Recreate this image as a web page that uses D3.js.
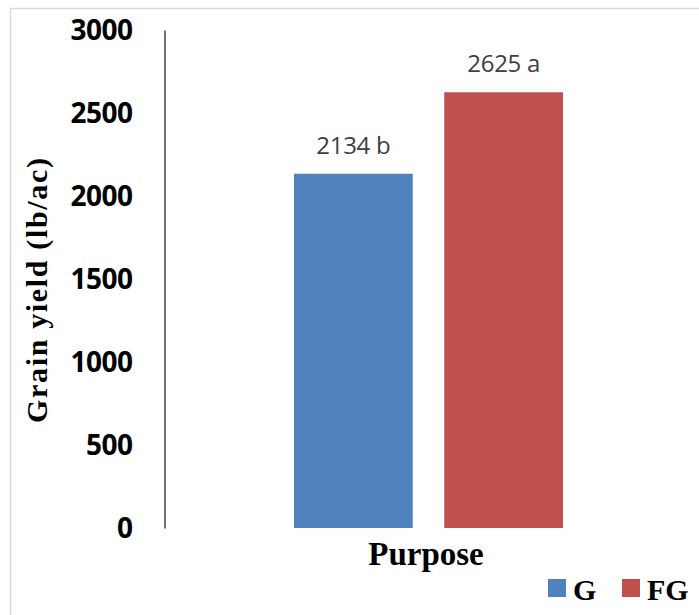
<!DOCTYPE html>
<html>
<head>
<meta charset="utf-8">
<script src="https://cdn.jsdelivr.net/npm/d3@7"></script>
<style>
  html, body { margin: 0; padding: 0; background: #fff; }
  svg { display: block; }
</style>
</head>
<body>
<svg id="chart" width="699" height="615"></svg>
<script>
// Grain yield by purpose
const categories = ["G", "FG"];
const yields = [2134, 2625];
const letters = ["b", "a"];
const colors = ["#4f81bd", "#c0504d"];
const yTicks = [0, 500, 1000, 1500, 2000, 2500, 3000];

const svg = d3.select("#chart");

// chart area frame
svg.append("path")
  .attr("d", "M10.5,615 L10.5,8.5 L699,8.5")
  .attr("fill", "none")
  .attr("stroke", "#d9d9d9")
  .attr("stroke-width", 1.5);

const y = d3.scaleLinear().domain([0, 3000]).range([528, 30]);
const x = d3.scaleBand().domain(categories).range([294, 563]).paddingInner(0.21).paddingOuter(0);

// y axis
const yAxis = d3.axisLeft(y).tickValues(yTicks).tickSize(0).tickPadding(32).tickFormat(d3.format("d"));
const ga = svg.append("g").attr("transform", "translate(164.5,0)").call(yAxis);
ga.select(".domain").attr("stroke", "#404040").attr("stroke-width", 1.5);
ga.selectAll("text")
  .attr("font-family", "'Open Sans', 'Liberation Sans', sans-serif")
  .attr("font-weight", "bold")
  .attr("font-size", 28)
  .attr("letter-spacing", -0.5)
  .attr("dy", "0.33em")
  .attr("fill", "#000");

// bars
svg.selectAll("rect.bar")
  .data(categories)
  .join("rect")
  .attr("class", "bar")
  .attr("x", d => x(d))
  .attr("width", x.bandwidth())
  .attr("y", (d, i) => y(yields[i]))
  .attr("height", (d, i) => y(0) - y(yields[i]))
  .attr("fill", (d, i) => colors[i]);

// value labels
svg.selectAll("text.val")
  .data(categories)
  .join("text")
  .attr("class", "val")
  .attr("x", d => x(d) + x.bandwidth() / 2)
  .attr("y", (d, i) => y(yields[i]) - 20)
  .attr("text-anchor", "middle")
  .attr("font-family", "'Open Sans', 'Liberation Sans', sans-serif")
  .attr("font-size", 24)
  .attr("letter-spacing", -0.3)
  .attr("fill", "#404040")
  .text((d, i) => `${yields[i]} ${letters[i]}`);

// axis titles
svg.append("text")
  .attr("transform", "translate(47,290.5) rotate(-90)")
  .attr("text-anchor", "middle")
  .attr("font-family", "'Liberation Serif', 'Times New Roman', serif")
  .attr("font-weight", "bold")
  .attr("font-size", 30)
  .attr("textLength", 265)
  .attr("lengthAdjust", "spacing")
  .attr("fill", "#000")
  .text("Grain yield (lb/ac)");

svg.append("text")
  .attr("x", 426)
  .attr("y", 565)
  .attr("text-anchor", "middle")
  .attr("font-family", "'Liberation Serif', 'Times New Roman', serif")
  .attr("font-weight", "bold")
  .attr("font-size", 33)
  .attr("fill", "#000")
  .text("Purpose");

// legend
const legendX = [548, 622];
const lg = svg.selectAll("g.leg")
  .data(categories)
  .join("g")
  .attr("class", "leg")
  .attr("transform", (d, i) => `translate(${legendX[i]},579)`);
lg.append("rect")
  .attr("width", 18).attr("height", 18)
  .attr("fill", (d, i) => colors[i]);
lg.append("text")
  .attr("x", 25)
  .attr("y", 21)
  .attr("font-family", "'Liberation Serif', 'Times New Roman', serif")
  .attr("font-weight", "bold")
  .attr("font-size", 30)
  .attr("fill", "#000")
  .text(d => d);
</script>
</body>
</html>
